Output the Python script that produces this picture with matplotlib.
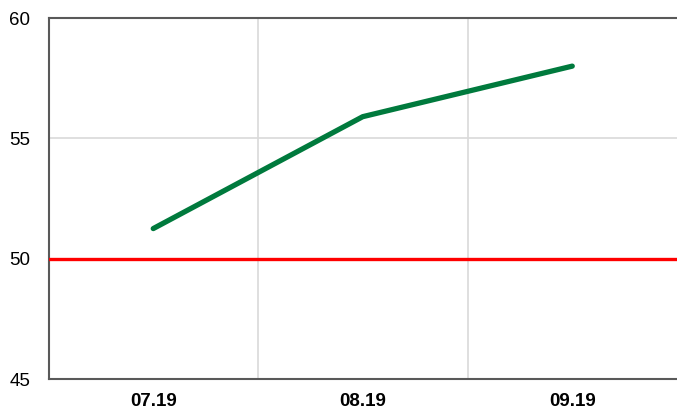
import matplotlib.pyplot as plt

plt.rcParams['font.family'] = ['Liberation Sans', 'DejaVu Sans']

months = ["07.19", "08.19", "09.19"]
values = [51.25, 55.9, 58.0]
threshold = 50

fig = plt.figure(figsize=(6.77, 4.11), dpi=100)
ax = fig.add_axes([48.5 / 677, 1 - 379 / 411, 1 - 48.5 / 677, (379 - 18) / 411])

x = list(range(len(months)))
ax.axhline(threshold, color="#ff0000", lw=2.4, zorder=3)
ax.plot(x, values, color="#007a3d", lw=3.8, solid_capstyle="round", zorder=4)

ax.set_xlim(-0.5, len(months) - 0.5)
ax.set_ylim(45, 60)
ax.set_yticks([45, 50, 55, 60])
ax.set_xticks(x)
ax.set_xticklabels(months, fontweight="bold")
ax.set_xticks([i + 0.5 for i in x[:-1]], minor=True)

ax.grid(axis="y", color="#d9d9d9", lw=1.2)
ax.grid(axis="x", which="minor", color="#d9d9d9", lw=1.2)
ax.set_axisbelow(True)

ax.tick_params(axis="both", which="both", length=0, labelsize=13.5, colors="black")
ax.tick_params(axis="y", pad=13)
ax.tick_params(axis="x", pad=10)

for side in ["left", "bottom", "top"]:
    ax.spines[side].set_color("#595959")
    ax.spines[side].set_linewidth(1.5)
ax.spines["right"].set_visible(False)

fig.savefig("out.png", dpi=100)
